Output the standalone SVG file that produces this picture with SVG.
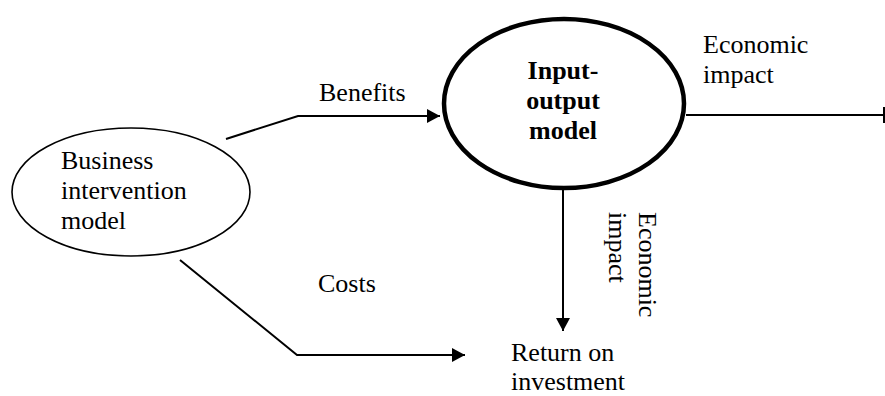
<svg xmlns="http://www.w3.org/2000/svg" width="885" height="396" viewBox="0 0 885 396">
<style>
  text { font-family: 'Liberation Serif', 'DejaVu Serif', 'Times New Roman', serif; font-size: 26px; fill: #000; }
  .bold { font-weight: bold; }
  .conn { fill: none; stroke: #000; stroke-width: 2; }
</style>
<defs>
  <marker id="arrow" markerUnits="userSpaceOnUse" markerWidth="14" markerHeight="14" refX="13" refY="7" orient="auto">
    <path d="M0,0 L13,7 L0,14 Z" fill="#000"/>
  </marker>
</defs>
<rect width="885" height="396" fill="#fff"/>
<g id="connectors">
  <polyline class="conn" points="226,139 298,116 440,116" marker-end="url(#arrow)"/>
  <polyline class="conn" points="180,260 297,355 465,355" marker-end="url(#arrow)"/>
  <line class="conn" x1="563" y1="190" x2="563" y2="331" marker-end="url(#arrow)"/>
  <line class="conn" x1="686" y1="115" x2="884" y2="115"/>
  <line class="conn" x1="884" y1="107" x2="884" y2="123"/>
</g>
<g id="labels">
  <text x="319" y="101">Benefits</text>
  <text x="318" y="292">Costs</text>
  <text x="703" y="53">Economic</text>
  <text x="703" y="83">impact</text>
  <g transform="translate(639,212) rotate(90)">
    <text x="0" y="0">Economic</text>
    <text x="0" y="30">impact</text>
  </g>
</g>
<g id="business">
  <ellipse cx="131" cy="192" rx="119" ry="64" fill="#fff" stroke="#000" stroke-width="1.6"/>
  <text x="61" y="169">Business</text>
  <text x="61" y="199">intervention</text>
  <text x="61" y="229">model</text>
</g>
<g id="io-model">
  <ellipse cx="564" cy="103.5" rx="120" ry="84.5" fill="#fff" stroke="#000" stroke-width="4.5"/>
  <text class="bold" x="563" y="79" text-anchor="middle">Input-</text>
  <text class="bold" x="563" y="109" text-anchor="middle">output</text>
  <text class="bold" x="563" y="139" text-anchor="middle">model</text>
</g>
<g id="roi">
  <text x="511" y="361">Return on</text>
  <text x="511" y="390">investment</text>
</g>
</svg>
